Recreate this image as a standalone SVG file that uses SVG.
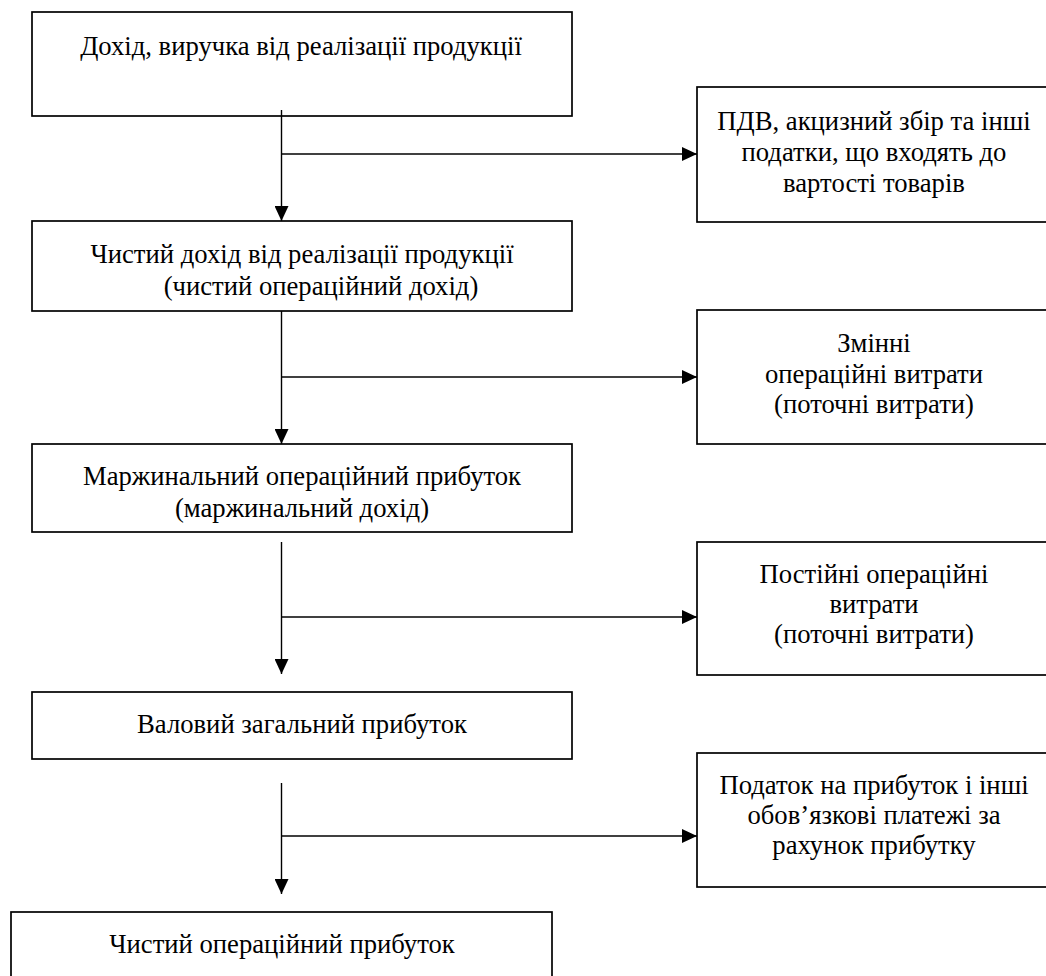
<svg xmlns="http://www.w3.org/2000/svg" width="1046" height="976" viewBox="0 0 1046 976">
<defs>
<style>
.box{fill:#fff;stroke:#000;stroke-width:1.7}
.t{font-family:"Liberation Serif","Times New Roman",serif;font-size:26.67px;fill:#000;text-anchor:middle}
.c{stroke:#000;stroke-width:1.4;fill:none}
</style>
<marker id="ah" markerWidth="15" markerHeight="14" refX="15" refY="7" orient="auto" markerUnits="userSpaceOnUse">
<path d="M0,0 L15,7 L0,14 Z" fill="#000"/>
</marker>
</defs>
<rect width="1046" height="976" fill="#fff"/>
<g id="n1"><rect class="box" x="32" y="12" width="540" height="104"/><text class="t" x="301" y="55">Дохід, виручка від реалізації продукції</text></g>
<g id="n2"><rect class="box" x="32" y="221" width="540" height="90"/><text class="t" x="302" y="263">Чистий дохід від реалізації продукції</text><text class="t" x="321" y="295">(чистий операційний дохід)</text></g>
<g id="n3"><rect class="box" x="32" y="444" width="540" height="88"/><text class="t" x="302" y="485">Маржинальний операційний прибуток</text><text class="t" x="302" y="517">(маржинальний дохід)</text></g>
<g id="n4"><rect class="box" x="32" y="692" width="540" height="67"/><text class="t" x="302" y="733">Валовий загальний прибуток</text></g>
<g id="n5"><rect class="box" x="11" y="912" width="541" height="90"/><text class="t" x="282" y="953">Чистий операційний прибуток</text></g>
<g id="r1"><rect class="box" x="697" y="87" width="360" height="135"/><text class="t" x="874" y="130">ПДВ, акцизний збір та інші</text><text class="t" x="874" y="161">податки, що входять до</text><text class="t" x="874" y="192">вартості товарів</text></g>
<g id="r2"><rect class="box" x="697" y="310" width="360" height="134"/><text class="t" x="874" y="352">Змінні</text><text class="t" x="874" y="383">операційні витрати</text><text class="t" x="874" y="413">(поточні витрати)</text></g>
<g id="r3"><rect class="box" x="697" y="542" width="360" height="133"/><text class="t" x="874" y="583">Постійні операційні</text><text class="t" x="874" y="613">витрати</text><text class="t" x="874" y="643">(поточні витрати)</text></g>
<g id="r4"><rect class="box" x="697" y="753" width="360" height="134"/><text class="t" x="874" y="794">Податок на прибуток і інші</text><text class="t" x="874" y="824">обов’язкові платежі за</text><text class="t" x="874" y="854">рахунок прибутку</text></g>
<g id="connectors">
<line class="c" x1="281.5" y1="110" x2="281.5" y2="221" marker-end="url(#ah)"/>
<line class="c" x1="281.5" y1="154" x2="697" y2="154" marker-end="url(#ah)"/>
<line class="c" x1="281.5" y1="311" x2="281.5" y2="444" marker-end="url(#ah)"/>
<line class="c" x1="281.5" y1="377" x2="697" y2="377" marker-end="url(#ah)"/>
<line class="c" x1="281.5" y1="542" x2="281.5" y2="674" marker-end="url(#ah)"/>
<line class="c" x1="281.5" y1="617" x2="697" y2="617" marker-end="url(#ah)"/>
<line class="c" x1="281.5" y1="783" x2="281.5" y2="894" marker-end="url(#ah)"/>
<line class="c" x1="281.5" y1="836" x2="697" y2="836" marker-end="url(#ah)"/>
</g>
</svg>
